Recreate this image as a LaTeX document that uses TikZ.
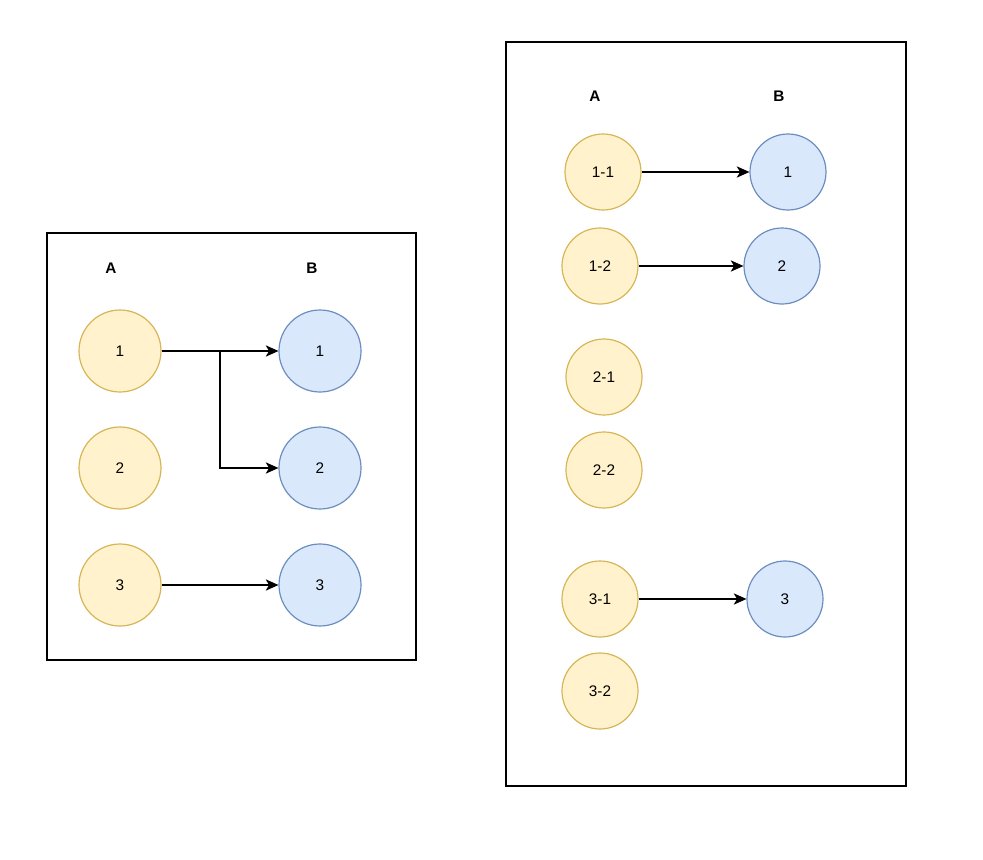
\documentclass[tikz,border=0pt]{standalone}
\usepackage{fontspec}
\setmainfont{Liberation Sans}
\usetikzlibrary{arrows.meta}
\definecolor{yfill}{HTML}{FFF2CC}
\definecolor{ydraw}{HTML}{D6B656}
\definecolor{bfill}{HTML}{DAE8FC}
\definecolor{bdraw}{HTML}{6C8EBF}
\tikzset{
  ycirc/.style={circle, fill=yfill, draw=ydraw, line width=0.9pt, inner sep=0pt, font=\fontsize{11.5}{13}\selectfont},
  bcirc/.style={circle, fill=bfill, draw=bdraw, line width=0.9pt, inner sep=0pt, font=\fontsize{11.5}{13}\selectfont},
  bigc/.style={minimum size=61.5pt},
  smallc/.style={minimum size=57pt},
  hdr/.style={font=\fontsize{11.5}{13}\selectfont\bfseries},
  frame/.style={draw=black, line width=1.5pt},
  arr/.style={draw=black, line width=0.8pt, -{Stealth[length=9.5pt,width=8.5pt,inset=2.5pt]}}
}
\begin{document}
\begin{tikzpicture}[x=0.75pt,y=-0.75pt]
\useasboundingbox (0,0) rectangle (983,860);
% left panel
\node[frame, minimum width=276.75pt, minimum height=320.25pt, inner sep=0pt] (lbox) at (231.5,446.5) {};
\node[hdr] (la) at (111,268) {A};
\node[hdr] (lb) at (312,268) {B};
\node[ycirc,bigc] (a1) at (120,351) {1};
\node[ycirc,bigc] (a2) at (120,468) {2};
\node[ycirc,bigc] (a3) at (120,585) {3};
\node[bcirc,bigc] (b1) at (320,351) {1};
\node[bcirc,bigc] (b2) at (320,468) {2};
\node[bcirc,bigc] (b3) at (320,585) {3};
\coordinate (j) at (220,351);
\draw[arr] (a1) -- (b1);
\draw[arr] (a1.east) -- (j) |- (b2.west);
\draw[arr] (a3) -- (b3);
% right panel
\node[frame, minimum width=300pt, minimum height=558pt, inner sep=0pt] (rbox) at (706,414) {};
\node[hdr] (ra) at (595,96) {A};
\node[hdr] (rb) at (779,96) {B};
\node[ycirc,smallc] (r11) at (603,172) {1-1};
\node[ycirc,smallc] (r12) at (600,266) {1-2};
\node[ycirc,smallc] (r21) at (604,377) {2-1};
\node[ycirc,smallc] (r22) at (604,470) {2-2};
\node[ycirc,smallc] (r31) at (600,599) {3-1};
\node[ycirc,smallc] (r32) at (600,691) {3-2};
\node[bcirc,smallc] (rb1) at (788,172) {1};
\node[bcirc,smallc] (rb2) at (782,266) {2};
\node[bcirc,smallc] (rb3) at (785,599) {3};
\draw[arr] (r11) -- (rb1);
\draw[arr] (r12) -- (rb2);
\draw[arr] (r31) -- (rb3);
\end{tikzpicture}
\end{document}
